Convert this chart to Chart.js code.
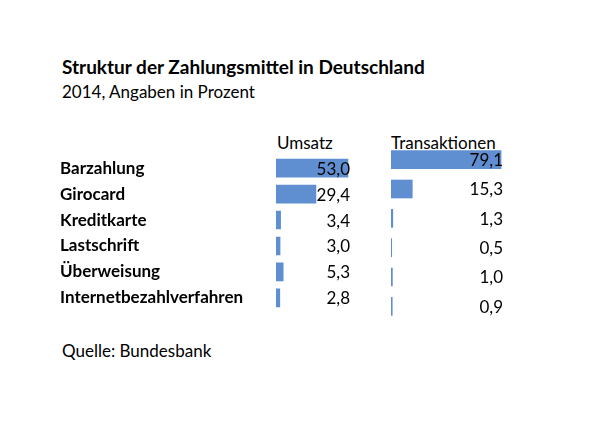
<!DOCTYPE html>
<html><head><meta charset="utf-8">
<script src="https://cdn.jsdelivr.net/npm/chart.js@4"></script>
<style>
body{margin:0;background:#fff;width:600px;height:439px;position:relative;font-family:Lato,"Open Sans",sans-serif;color:#000}
.t{position:absolute;white-space:nowrap}
canvas{position:absolute}
</style></head><body>
<div class="t" style="left:62px;top:55px;font-size:19px;font-weight:bold">Struktur der Zahlungsmittel in Deutschland</div>
<div class="t" style="left:62px;top:81px;font-size:17px">2014, Angaben in Prozent</div>
<div class="t" style="left:277px;top:132px;font-size:17px">Umsatz</div>
<div class="t" style="left:391px;top:132px;font-size:17px">Transaktionen</div>
<div class="t" style="left:62px;top:340px;font-size:17px">Quelle: Bundesbank</div>
<div style="position:absolute;left:60px;top:145px;width:290px;height:176px"><canvas id="c1"></canvas></div>
<div style="position:absolute;left:391px;top:145px;width:112px;height:176px"><canvas id="c2"></canvas></div>
<script>
const categories=["Barzahlung","Girocard","Kreditkarte","Lastschrift","Überweisung","Internetbezahlverfahren"];
const umsatz=[53.0,29.4,3.4,3.0,5.3,2.8];
const transaktionen=[79.1,15.3,1.3,0.5,1.0,0.9];
const color="#5f8fd0";
const fmt=v=>v.toFixed(1).replace('.',',');
const valuePlugin={id:'vals',afterDatasetsDraw(ch){const c=ch.ctx,a=ch.chartArea;c.save();c.font='17px Lato';c.fillStyle='#000';c.textAlign='right';c.textBaseline='middle';
ch.getDatasetMeta(0).data.forEach((b,i)=>c.fillText(fmt(ch.data.datasets[0].data[i]),a.right,b.y+1));c.restore();}};
function make(id,data,max,showLabels){
 const y={display:showLabels,grid:{display:false},border:{display:false},
   ticks:{crossAlign:'far',color:'#000',font:{family:'Lato',size:17,weight:'bold'},padding:0}};
 if(showLabels) y.afterFit=s=>{s.width=216;};
 return new Chart(document.getElementById(id),{type:'bar',data:{labels:categories,datasets:[{data,backgroundColor:color,barThickness:18}]},
 options:{indexAxis:'y',responsive:true,maintainAspectRatio:false,animation:false,
 layout:{padding:0},
 plugins:{legend:{display:false},tooltip:{enabled:false}},
 scales:{x:{display:false,min:0,max},y}},plugins:[valuePlugin]});
}
make('c1',umsatz,54.5,true);
make('c2',transaktionen,80.5,false);
</script></body></html>
